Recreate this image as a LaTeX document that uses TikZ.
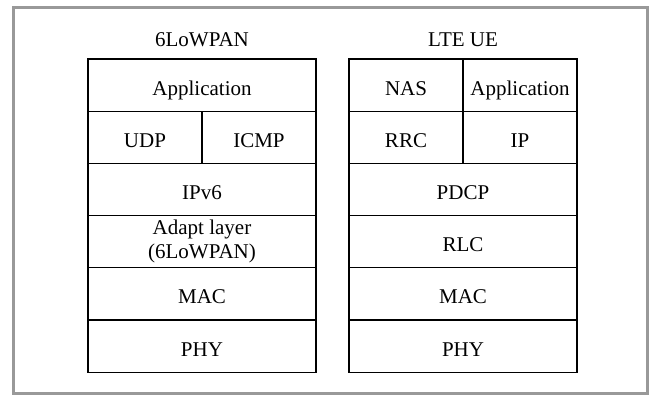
\documentclass[tikz,border=0pt]{standalone}
\usepackage{fontspec}
\setmainfont{Liberation Serif}
\usetikzlibrary{positioning}

\begin{document}
\begin{tikzpicture}[x=1pt, y=-1pt, node distance=0pt,
  layer/.style={draw, line width=1.1pt, minimum width=228pt, minimum height=52.2pt,
    inner sep=0pt, outer sep=0pt, align=center, font=\fontsize{21}{24}\selectfont},
  cell/.style={layer, text height=20pt, text depth=0pt},
  half/.style={cell, minimum width=114pt},
  title/.style={font=\fontsize{21}{24}\selectfont}]
  \useasboundingbox (0,0) rectangle (652,397);
  \draw[gray!80, line width=3pt] (13.5,7.5) rectangle (647,393);

  % 6LoWPAN stack
  \node[title] (lowpan) at (202,40) {6LoWPAN};
  \node[cell, anchor=north] (app) at (202,59) {Application};
  \node[half, anchor=north west] (udp) at (app.south west) {UDP};
  \node[half, right=of udp] (icmp) {ICMP};
  \node[cell, below=of udp.south east] (ipv6) {IPv6};
  \node[layer, below=of ipv6] (adapt) {Adapt layer\\(6LoWPAN)};
  \node[cell, below=of adapt] (mac) {MAC};
  \node[cell, below=of mac] (phy) {PHY};

  % LTE UE stack
  \node[title] (lte) at (463,40) {LTE UE};
  \node[half, anchor=north west] (nas) at (349,59) {NAS};
  \node[half, right=of nas] (lteapp) {Application};
  \node[half, below=of nas] (rrc) {RRC};
  \node[half, below=of lteapp] (ip) {IP};
  \node[cell, below=of rrc.south east] (pdcp) {PDCP};
  \node[cell, below=of pdcp] (rlc) {RLC};
  \node[cell, below=of rlc] (ltemac) {MAC};
  \node[cell, below=of ltemac] (ltephy) {PHY};
\end{tikzpicture}
\end{document}
